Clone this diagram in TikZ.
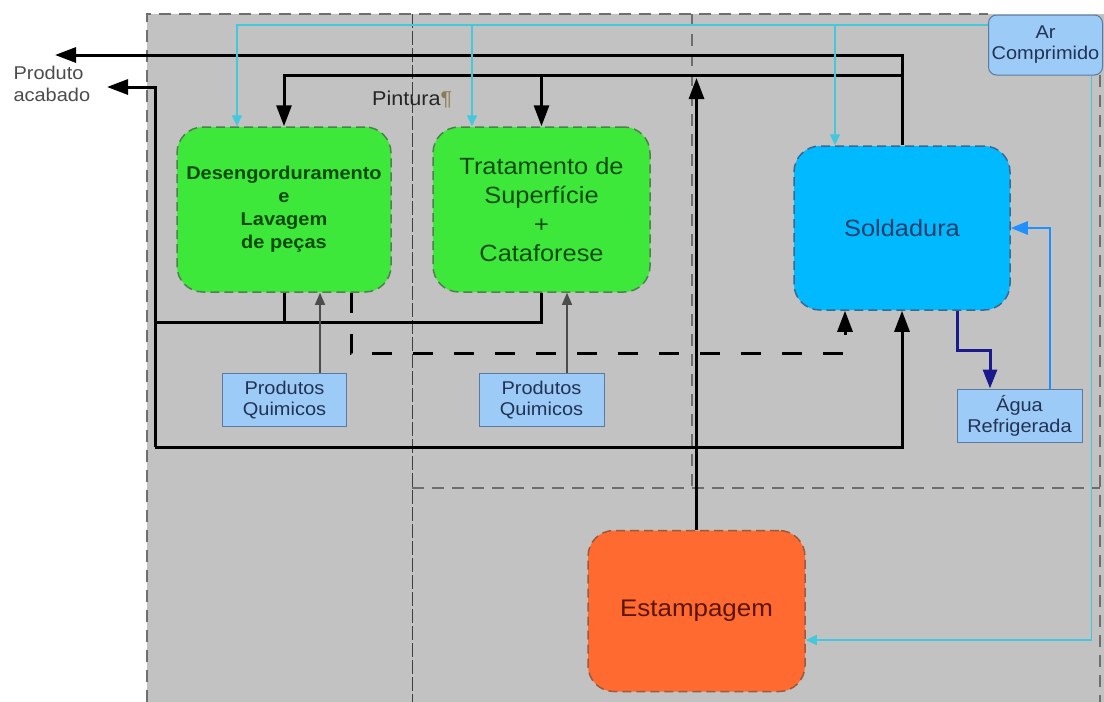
\documentclass[tikz,border=0pt]{standalone}
\usepackage{fontspec}
\setmainfont[FakeStretch=1.08]{Liberation Sans}
\usetikzlibrary{arrows.meta,calc}
\definecolor{bg}{HTML}{C2C2C2}
\definecolor{bordc}{HTML}{6E6E6E}
\definecolor{grnf}{HTML}{3EE83A}
\definecolor{grnb}{HTML}{4E7F4E}
\definecolor{grnt}{HTML}{0B4A0B}
\definecolor{solf}{HTML}{00B9FF}
\definecolor{solb}{HTML}{3A6890}
\definecolor{solt}{HTML}{1B3F6B}
\definecolor{estf}{HTML}{FF6A30}
\definecolor{estb}{HTML}{9A5A40}
\definecolor{estt}{HTML}{5B1400}
\definecolor{sbf}{HTML}{9DCBF7}
\definecolor{sbb}{HTML}{5A7AA0}
\definecolor{sbt}{HTML}{223355}
\definecolor{cyl}{HTML}{45C8DC}
\definecolor{wtr}{HTML}{1E90FF}
\definecolor{nvy}{HTML}{1A1A8C}
\definecolor{pil}{HTML}{8B7B50}
\begin{document}
\begin{tikzpicture}[x=1pt,y=-1pt,
  proc/.style={draw, dash pattern=on 9pt off 5pt, line width=1.5pt, rounded corners=26pt, align=center, inner sep=0pt},
  greenbox/.style={proc, fill=grnf, draw=grnb, text=grnt, minimum width=214pt, minimum height=165pt},
  solbox/.style={proc, fill=solf, draw=solb, text=solt, minimum width=216pt, minimum height=164pt, font=\fontsize{23.5}{28}\selectfont},
  estbox/.style={proc, fill=estf, draw=estb, text=estt, minimum width=217pt, minimum height=161pt, font=\fontsize{24}{28}\selectfont},
  smallbox/.style={draw=sbb, fill=sbf, line width=1pt, minimum width=124pt, minimum height=53pt, align=center, text=sbt, inner sep=0pt, font=\fontsize{18.5}{21}\selectfont},
  bord/.style={draw=bordc, line width=1.5pt, dash pattern=on 12pt off 8pt},
  blk/.style={line width=3pt, black},
  bigdash/.style={dash pattern=on 20pt off 21pt},
  bt/.style={-{Triangle[length=21pt,width=15pt]}},
  thinl/.style={line width=1.1pt, draw=black!70, -{Triangle[length=12pt,width=10pt]}},
  cy/.style={line width=1.6pt, draw=cyl, -{Triangle[length=11pt,width=10pt]}},
  wt/.style={line width=2.6pt, draw=wtr, -{Triangle[length=17pt,width=13pt]}},
  nv/.style={line width=3pt, draw=nvy, -{Triangle[length=19pt,width=14pt]}}
]
\useasboundingbox (0,0) rectangle (1104,702);
% background regions
\fill[bg] (147,14) rectangle (1104,702);
\draw[bord] (147,702) -- (147,14) -- (988,14);
\draw[bord] (1100,75) -- (1100,702);
\draw[draw=black!75, line width=1pt, dash pattern=on 14pt off 3pt] (412,14) -- (412,702);
\draw[bord] (692,14) -- (692,488);
\draw[bord] (412,488) -- (1100,488);

% nodes
\node[greenbox, font=\fontsize{18.5}{23}\selectfont\bfseries] (des) at (284,209.5) {Desengorduramento\\e\\Lavagem\\de peças};
\node[greenbox, minimum width=217pt, font=\fontsize{23.5}{29}\selectfont] (tra) at (541.5,209.5) {Tratamento de\\Superfície\\+\\Cataforese};
\node[solbox] (sol) at (902,228) {Soldadura};
\node[estbox] (est) at (696.5,611) {Estampagem};
\node[smallbox, rounded corners=8pt, minimum width=114pt, minimum height=60pt] (ar) at (1045.5,45) {Ar\\Comprimido};
\node[smallbox] (pq1) at (284.5,400) {Produtos\\Quimicos};
\node[smallbox, minimum width=125pt] (pq2) at (541.5,400) {Produtos\\Quimicos};
\node[smallbox, minimum width=125pt] (agua) at (1019.5,415.5) {Água\\Refrigerada};
\node[anchor=west, align=left, text=black!70, font=\fontsize{18.5}{22}\selectfont] (pa) at (10,84) {Produto\\acabado};
\node[anchor=west, text=black!85, font=\fontsize{20}{22}\selectfont, inner sep=0pt] (pint) at (372,100) {Pintura\textcolor{pil}{¶}};

% connector end points
\coordinate (pa1) at (55,55);
\coordinate (pa2) at (107,87);
\coordinate (j1) at (902,75);
\coordinate (lb) at (155,447);
\coordinate (lm) at (155,322);
\coordinate (cyt) at ([yshift=20pt]ar.west);

% black flows
\draw[blk,bt] (sol.north) |- (pa1);
\draw[blk,bt] (j1) -| (des.north);
\draw[blk,bt] (tra.north |- j1) -- (tra.north);
\draw[blk,bt] (est.north) -- ([yshift=-3pt]est.north |- j1);
\draw[blk] (des.south) -- (des.south |- lm);
\draw[blk] (tra.south) |- (lm);
\draw[blk,bt] (lb) |- (pa2);
\draw[blk,bt] (lb) -| (sol.south);
\draw[blk,bigdash,bt] ([xshift=67pt]des.south) -- ++(0,61) -| ([xshift=-57pt]sol.south);

% chemicals
\draw[thinl] ([xshift=35.5pt]pq1.north) -- ([xshift=35.5pt]pq1.north |- des.south);
\draw[thinl] ([xshift=25.5pt]pq2.north) -- ([xshift=25.5pt]pq2.north |- tra.south);

% cooling water
\draw[nv] ([xshift=55pt]sol.south) -- ++(0,40) -| ([xshift=-29.5pt]agua.north);
\draw[wt] ([xshift=30.5pt]agua.north) |- (sol.east);

% compressed air
\draw[cy] (cyt) -| ([xshift=-47pt]des.north);
\draw[cy] ([xshift=-69.5pt]tra.north |- cyt) -- ([xshift=-69.5pt]tra.north);
\draw[cy] ([xshift=-67pt]sol.north |- cyt) -- ([xshift=-67pt]sol.north);
\draw[cy] ([xshift=46pt]ar.south) |- ([yshift=-29pt]est.east);
\end{tikzpicture}
\end{document}
